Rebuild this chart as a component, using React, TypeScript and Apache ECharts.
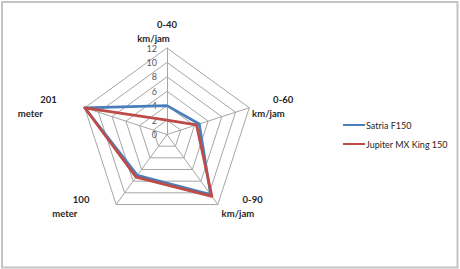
import React, { useEffect, useRef } from "react";
import * as echarts from "echarts";

const categories = ["0-40 km/jam", "0-60 km/jam", "0-90 km/jam", "100 meter", "201 meter"];
const seriesNames = ["Satria F150", "Jupiter MX King 150"];
const satriaValues = [4, 4.7, 10.3, 7, 12];
const jupiterValues = [2, 4.3, 10.6, 7.3, 12];
const axisMin = 0;
const axisMax = 12;
const axisSplits = 6;

const colors = ["#4A7EBB", "#BE4B48"];
// ECharts lays indicators counter-clockwise; this order gives the reference's clockwise layout
const drawOrder = [0, 4, 3, 2, 1];
// padding for the two lines of each category name: [line1, line2]
const namePads: number[][][] = [
  [[0, 0, 0, 0], [0, 27, 0, 0]],
  [[0, 0, 0, 21], [0, 0, 0, 0]],
  [[0, 0, 0, 23], [0, 0, 0, 2]],
  [[0, 25, 0, 0], [0, 37, 0, 0]],
  [[0, 25, 0, 0], [0, 39, 0, 0]],
];
const nameAligns = ["center", "left", "left", "right", "right"];

const FONT = "Lato, 'Open Sans', sans-serif";

export default function App() {
  const ref = useRef<HTMLDivElement>(null);
  useEffect(() => {
    if (!ref.current) return;
    const chart = echarts.init(ref.current, undefined, { renderer: "svg" });
    const rich: Record<string, any> = {};
    categories.forEach((_, i) => {
      const base = {
        fontFamily: FONT,
        fontWeight: "bold",
        fontSize: 9.5,
        color: "#262626",
        lineHeight: 14,
        align: nameAligns[i],
      };
      rich["a" + i] = { ...base, padding: namePads[i][0] };
      rich["b" + i] = { ...base, padding: namePads[i][1] };
    });
    const indicator = drawOrder.map((idx, k) => {
      const ind: any = { name: categories[idx], min: axisMin, max: axisMax };
      if (k === 0) {
        ind.axisLabel = {
          show: true,
          margin: 10,
          color: "#595959",
          fontSize: 9,
          fontFamily: FONT,
          showMinLabel: true,
          showMaxLabel: true,
        };
      }
      return ind;
    });
    const order = (vals: number[]) => drawOrder.map((i) => vals[i]);
    const option: any = {
      animation: false,
      backgroundColor: "#ffffff",
      graphic: [
        {
          type: "rect",
          shape: { x: 2, y: 2, width: 455.5, height: 265.5 },
          style: { fill: "none", stroke: "#c4c4c4", lineWidth: 2 },
          silent: true,
        },
      ],
      legend: {
        data: seriesNames,
        orient: "vertical",
        left: 338,
        top: 114,
        itemWidth: 22,
        itemHeight: 2,
        itemGap: 7,
        icon: "rect",
        selectedMode: false,
        textStyle: {
          fontFamily: FONT,
          fontSize: 9,
          color: "#262626",
          lineHeight: 12,
          padding: [0, 0, 0, -4],
        },
      },
      radar: {
        center: [167, 134.5],
        radius: 86.5,
        startAngle: 90,
        splitNumber: axisSplits,
        shape: "polygon",
        nameGap: 3,
        indicator,
        axisName: {
          formatter: (name: string) => {
            const i = categories.indexOf(name);
            const parts = name.split(" ");
            const l1 = parts[0];
            const l2 = parts.slice(1).join(" ");
            return `{a${i}|${l1}}\n{b${i}|${l2}}`;
          },
          rich,
        },
        axisLine: { lineStyle: { color: "#a6a6a6", width: 1 } },
        splitLine: { lineStyle: { color: "#a6a6a6", width: 1 } },
        splitArea: { show: false },
        axisTick: { show: false },
        axisLabel: { show: false },
      },
      series: [
        {
          type: "radar",
          symbol: "none",
          data: [
            {
              name: seriesNames[0],
              value: order(satriaValues),
              lineStyle: { color: colors[0], width: 2.75 },
              itemStyle: { color: colors[0] },
            },
            {
              name: seriesNames[1],
              value: order(jupiterValues),
              lineStyle: { color: colors[1], width: 2.75 },
              itemStyle: { color: colors[1] },
            },
          ],
        },
      ],
    };
    chart.setOption(option);
    return () => chart.dispose();
  }, []);
  return (
    <div
      ref={ref}
      style={{ position: "fixed", left: 0, top: 0, width: 460, height: 269 }}
    />
  );
}
